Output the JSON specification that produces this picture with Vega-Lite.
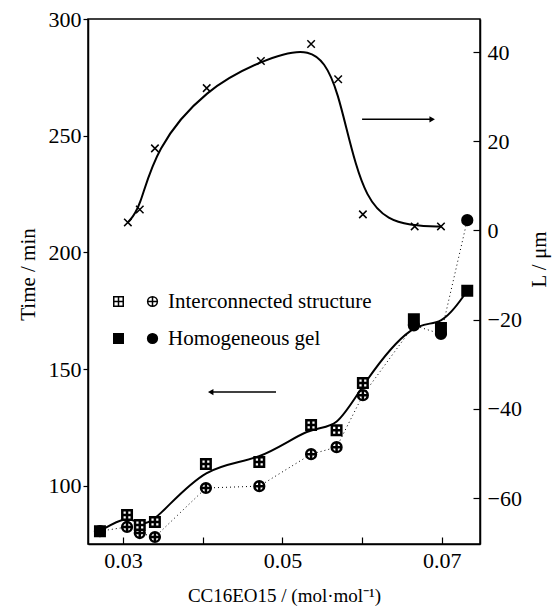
{
  "$schema": "https://vega.github.io/schema/vega-lite/v6.json",
  "width": 392,
  "height": 525,
  "autosize": "none",
  "padding": {"left": 88, "top": 19, "right": 75, "bottom": 66},
  "background": "white",
  "config": {
    "view": {"stroke": "black", "strokeWidth": 1.5},
    "font": "Liberation Serif",
    "axis": {
      "grid": false,
      "domainColor": "black",
      "domainWidth": 1.5,
      "tickColor": "black",
      "tickWidth": 1.2,
      "labelColor": "black",
      "titleColor": "black",
      "labelFont": "Liberation Serif",
      "titleFont": "Liberation Serif",
      "labelFontSize": 22,
      "titleFontSize": 21,
      "titleFontWeight": "normal"
    },
    "legend": {
      "labelFont": "Liberation Serif",
      "labelFontSize": 21,
      "labelColor": "black",
      "labelLimit": 400
    }
  },
  "datasets": {
    "squares": [
      {"x": 0.0271, "time": 80.5, "state": "Homogeneous gel"},
      {"x": 0.0305, "time": 87.4, "state": "Interconnected structure"},
      {"x": 0.0321, "time": 83.1, "state": "Interconnected structure"},
      {"x": 0.0340, "time": 84.4, "state": "Interconnected structure"},
      {"x": 0.0404, "time": 109.3, "state": "Interconnected structure"},
      {"x": 0.0471, "time": 110.1, "state": "Interconnected structure"},
      {"x": 0.0536, "time": 126.0, "state": "Interconnected structure"},
      {"x": 0.0568, "time": 123.8, "state": "Interconnected structure"},
      {"x": 0.0601, "time": 144.0, "state": "Interconnected structure"},
      {"x": 0.0665, "time": 171.3, "state": "Homogeneous gel"},
      {"x": 0.0699, "time": 167.6, "state": "Homogeneous gel"},
      {"x": 0.0732, "time": 183.5, "state": "Homogeneous gel"}
    ],
    "circles": [
      {"x": 0.0271, "time": 80.5, "cstate": "Homogeneous gel"},
      {"x": 0.0305, "time": 82.3, "cstate": "Interconnected structure"},
      {"x": 0.0321, "time": 79.7, "cstate": "Interconnected structure"},
      {"x": 0.0340, "time": 78.0, "cstate": "Interconnected structure"},
      {"x": 0.0404, "time": 99.0, "cstate": "Interconnected structure"},
      {"x": 0.0471, "time": 99.8, "cstate": "Interconnected structure"},
      {"x": 0.0536, "time": 113.5, "cstate": "Interconnected structure"},
      {"x": 0.0568, "time": 116.5, "cstate": "Interconnected structure"},
      {"x": 0.0601, "time": 138.8, "cstate": "Interconnected structure"},
      {"x": 0.0665, "time": 168.7, "cstate": "Homogeneous gel"},
      {"x": 0.0699, "time": 165.0, "cstate": "Homogeneous gel"},
      {"x": 0.0732, "time": 213.8, "cstate": "Homogeneous gel"}
    ],
    "crosses": [
      {"x": 0.0306, "L": 1.8},
      {"x": 0.0321, "L": 4.7},
      {"x": 0.0340, "L": 18.4},
      {"x": 0.0405, "L": 31.9},
      {"x": 0.0473, "L": 38.0},
      {"x": 0.0536, "L": 41.8},
      {"x": 0.0570, "L": 33.9},
      {"x": 0.0601, "L": 3.6},
      {"x": 0.0666, "L": 0.9},
      {"x": 0.0699, "L": 0.9}
    ],
    "arrowLeft": [{"x": 0.0410, "x2": 0.0492, "time": 140.1}],
    "arrowRight": [{"x": 0.0600, "x2": 0.0688, "L": 24.9}]
  },
  "layer": [
    {
      "encoding": {
        "x": {
          "field": "x", "type": "quantitative",
          "scale": {"domain": [0.0256, 0.0748], "nice": false, "zero": false},
          "axis": {
            "title": "CC16EO15 / (mol·mol⁻¹)",
            "titleFontSize": 19,
            "values": [0.03, 0.04, 0.05, 0.06, 0.07],
            "format": ".2f",
            "labelExpr": "(datum.value == 0.04 || datum.value == 0.06) ? '' : datum.label",
            "tickSize": -7,
            "labelPadding": 13,
            "titlePadding": 15
          }
        },
        "y": {
          "field": "time", "type": "quantitative",
          "scale": {"domain": [75, 300], "nice": false, "zero": false},
          "axis": {
            "title": "Time / min",
            "values": [100, 150, 200, 250, 300],
            "tickSize": 5,
            "labelPadding": 2,
            "titlePadding": 10,
            "titleY": 255
          }
        }
      },
      "layer": [
        {
          "data": {"name": "circles"},
          "mark": {"type": "line", "color": "black", "strokeWidth": 1, "strokeDash": [1, 3]},
          "encoding": {"order": {"field": "x", "type": "quantitative"}}
        },
        {
          "data": {"name": "squares"},
          "mark": {"type": "line", "color": "black", "strokeWidth": 2, "interpolate": "basis"},
          "encoding": {"order": {"field": "x", "type": "quantitative"}}
        },
        {
          "data": {"name": "circles"},
          "mark": {"type": "point", "filled": true, "stroke": "black", "strokeWidth": 2.5, "size": 95, "opacity": 1},
          "encoding": {
            "shape": {
              "field": "cstate", "type": "nominal",
              "scale": {
                "domain": ["Interconnected structure", "Homogeneous gel"],
                "range": ["M-1,0A1,1,0,1,1,1,0A1,1,0,1,1,-1,0Z M0,-1V1 M-1,0H1", "circle"]
              },
              "legend": {
                "orient": "none", "legendX": 54, "legendY": 272, "title": null,
                "symbolSize": 95, "labelOffset": 5, "rowPadding": 15, "padding": 0,
                "encode": {"symbols": {"update": {"stroke": {"value": "black"}, "strokeWidth": {"value": 2.5}}}}
              }
            },
            "fill": {
              "field": "cstate", "type": "nominal",
              "scale": {"domain": ["Interconnected structure", "Homogeneous gel"], "range": ["white", "black"]},
              "legend": {
                "orient": "none", "legendX": 54, "legendY": 272, "title": null,
                "symbolSize": 95, "labelOffset": 5, "rowPadding": 15, "padding": 0,
                "encode": {"symbols": {"update": {"stroke": {"value": "black"}, "strokeWidth": {"value": 2.5}}}}
              }
            }
          }
        },
        {
          "data": {"name": "squares"},
          "mark": {"type": "point", "filled": true, "stroke": "black", "strokeWidth": 2.5, "size": 90, "opacity": 1},
          "encoding": {
            "shape": {
              "field": "state", "type": "nominal",
              "scale": {
                "domain": ["Interconnected structure", "Homogeneous gel"],
                "range": ["M-1,-1H1V1H-1Z M0,-1V1 M-1,0H1", "square"]
              },
              "legend": {
                "orient": "none", "legendX": 20, "legendY": 272, "title": null,
                "symbolSize": 90, "labelExpr": "''", "rowPadding": 15, "padding": 0,
                "encode": {"symbols": {"update": {"stroke": {"value": "black"}, "strokeWidth": {"value": 2.5}}}}
              }
            },
            "fill": {
              "field": "state", "type": "nominal",
              "scale": {"domain": ["Interconnected structure", "Homogeneous gel"], "range": ["white", "black"]},
              "legend": {
                "orient": "none", "legendX": 20, "legendY": 272, "title": null,
                "symbolSize": 90, "labelExpr": "''", "rowPadding": 15, "padding": 0,
                "encode": {"symbols": {"update": {"stroke": {"value": "black"}, "strokeWidth": {"value": 2.5}}}}
              }
            }
          }
        },
        {
          "data": {"name": "arrowLeft"},
          "mark": {"type": "rule", "color": "black", "strokeWidth": 1.5},
          "encoding": {"x2": {"field": "x2"}}
        },
        {
          "data": {"name": "arrowLeft"},
          "mark": {"type": "point", "shape": "triangle-left", "filled": true, "color": "black", "size": 40, "opacity": 1}
        }
      ],
      "resolve": {"scale": {"shape": "independent", "fill": "independent"}}
    },
    {
      "encoding": {
        "x": {
          "field": "x", "type": "quantitative",
          "scale": {"domain": [0.0256, 0.0748], "nice": false, "zero": false},
          "axis": {
            "title": "CC16EO15 / (mol·mol⁻¹)",
            "titleFontSize": 19,
            "values": [0.03, 0.04, 0.05, 0.06, 0.07],
            "format": ".2f",
            "labelExpr": "(datum.value == 0.04 || datum.value == 0.06) ? '' : datum.label",
            "tickSize": -7,
            "labelPadding": 13,
            "titlePadding": 15
          }
        },
        "y": {
          "field": "L", "type": "quantitative",
          "scale": {"domain": [-70.3, 47.4], "nice": false, "zero": false},
          "axis": {
            "orient": "right",
            "title": "L / μm",
            "titleAngle": 270,
            "values": [-60, -40, -20, 0, 20, 40],
            "tickSize": -7,
            "labelPadding": 14,
            "titlePadding": 28,
            "titleY": 240
          }
        }
      },
      "layer": [
        {
          "data": {"name": "crosses"},
          "mark": {"type": "line", "color": "black", "strokeWidth": 2, "interpolate": "basis"},
          "encoding": {"order": {"field": "x", "type": "quantitative"}}
        },
        {
          "data": {"name": "crosses"},
          "mark": {"type": "point", "shape": "M-1,-1L1,1M-1,1L1,-1", "filled": false, "color": "black", "strokeWidth": 1.5, "size": 56, "opacity": 1}
        },
        {
          "data": {"name": "arrowRight"},
          "mark": {"type": "rule", "color": "black", "strokeWidth": 1.5},
          "encoding": {"x2": {"field": "x2"}}
        },
        {
          "data": {"name": "arrowRight"},
          "mark": {"type": "point", "shape": "triangle-right", "filled": true, "color": "black", "size": 40, "opacity": 1},
          "encoding": {"x": {"field": "x2", "type": "quantitative"}}
        }
      ]
    }
  ],
  "resolve": {"scale": {"y": "independent"}}
}
